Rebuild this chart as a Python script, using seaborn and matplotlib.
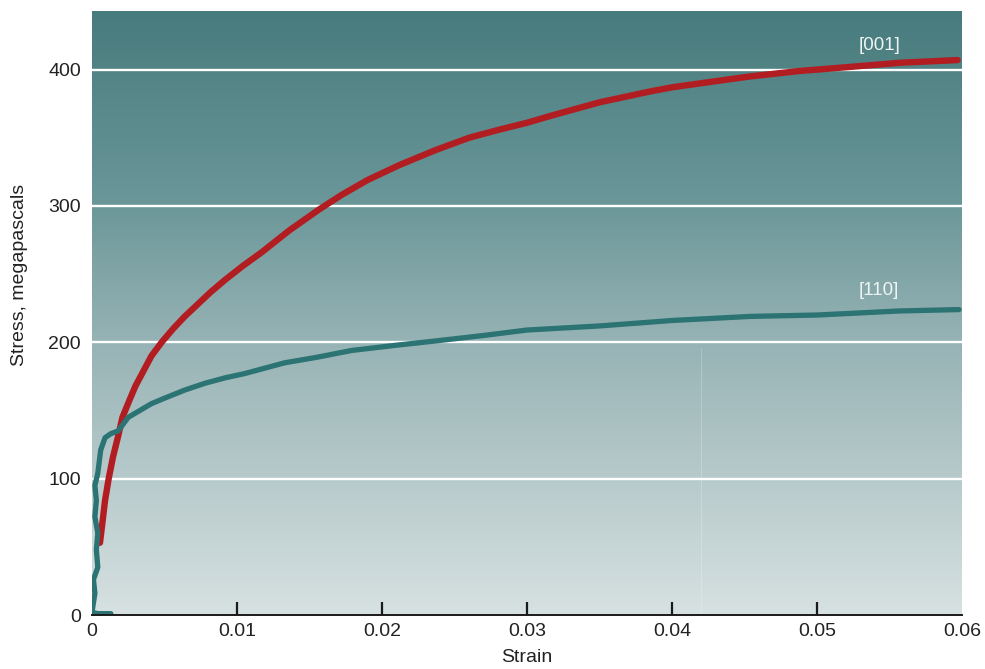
import numpy as np
import pandas as pd
import matplotlib
matplotlib.use("Agg")
import matplotlib.pyplot as plt
from matplotlib.colors import LinearSegmentedColormap
import seaborn as sns

# Stress-strain curves
strain_001 = [0.00055, 0.0007, 0.0009, 0.00115, 0.00145, 0.0018, 0.0021, 0.0026, 0.003, 0.0036,
              0.0041, 0.0048, 0.0056, 0.0064, 0.0073, 0.0082, 0.0092, 0.0104, 0.0117, 0.0136,
              0.0156, 0.0172, 0.019, 0.0212, 0.0237, 0.026, 0.0281, 0.03, 0.0316, 0.035,
              0.0385, 0.04, 0.042, 0.0454, 0.0488, 0.05, 0.0523, 0.0557, 0.0597]
stress_001 = [53, 66, 84, 100, 116, 131, 145, 158, 168, 180,
              190, 200, 210, 219, 228, 237, 246, 256, 266, 282,
              297, 308, 319, 330, 341, 350, 356, 361, 366, 376,
              384, 387, 390, 395, 399, 400, 402, 405, 407]

strain_110 = [0.0013, 0.0004, 0.0, 0.0002, 0.0001, 0.0004, 0.0003, 0.0004, 0.0002, 0.0003,
              0.0002, 0.0004, 0.0006, 0.0009, 0.0013, 0.0018, 0.0025, 0.0033, 0.0041, 0.005,
              0.0064, 0.0078, 0.0092, 0.0105, 0.0133, 0.0155, 0.0179, 0.0211, 0.0237, 0.027,
              0.03, 0.035, 0.04, 0.0454, 0.05, 0.0557, 0.0598]
stress_110 = [1, 1, 2, 16, 26, 35, 48, 60, 72, 84,
              95, 104, 121, 130, 133, 135, 145, 150, 155, 159,
              165, 170, 174, 177, 185, 189, 194, 198, 201, 205,
              209, 212, 216, 219, 220, 223, 224]

df = pd.concat([
    pd.DataFrame({"strain": strain_001, "stress": stress_001, "orient": "[001]"}),
    pd.DataFrame({"strain": strain_110, "stress": stress_110, "orient": "[110]"}),
], ignore_index=True)

sns.set_theme(style="white")
plt.rcParams["font.family"] = ["Liberation Sans", "DejaVu Sans"]

fig = plt.figure(figsize=(9.85, 6.69), dpi=100)
ax = fig.add_axes([0.0934, 0.0807, 0.8832, 0.9029])

ymax = 443
# gradient background, dark teal on top to pale grey at the bottom
bg = LinearSegmentedColormap.from_list(
    "bg", [(0.0, "#d7e1e1"), (0.45, "#97b3b5"), (0.68, "#6b9799"), (1.0, "#477b7d")])
grad = np.linspace(0, 1, 256).reshape(-1, 1)
ax.imshow(grad, cmap=bg, origin="lower", extent=[0, 0.06, 0, ymax], aspect="auto", zorder=0)

for yv in [100, 200, 300, 400]:
    ax.axhline(yv, color="white", lw=1.7, zorder=1)
ax.plot([0.042, 0.042], [0, 196], color="white", lw=0.6, alpha=0.25, zorder=1)

sns.lineplot(data=df, x="strain", y="stress", hue="orient", size="orient",
             palette={"[001]": "#b21d22", "[110]": "#2c7374"},
             sizes={"[001]": 4.6, "[110]": 3.8},
             sort=False, estimator=None, legend=False, ax=ax, zorder=3)
for ln in ax.get_lines():
    ln.set_solid_capstyle("round")
    ln.set_solid_joinstyle("round")

ax.text(0.0529, 418, "[001]", color="#eef3f3", fontsize=13.5, ha="left", va="center")
ax.text(0.0529, 238, "[110]", color="#eef3f3", fontsize=13.5, ha="left", va="center")

ax.set_xlim(0, 0.06)
ax.set_ylim(0, ymax)
ax.set_xticks([0, 0.01, 0.02, 0.03, 0.04, 0.05, 0.06])
ax.set_xticklabels(["0", "0.01", "0.02", "0.03", "0.04", "0.05", "0.06"])
ax.set_yticks([0, 100, 200, 300, 400])
ax.tick_params(axis="x", direction="in", length=9.5, width=1.6, color="#1a1a1a",
               labelsize=14, labelcolor="#222222", pad=6, bottom=True)
ax.tick_params(axis="y", length=0, labelsize=14, labelcolor="#222222", pad=8)
# no tick marks at the two ends of the axis
xt = ax.xaxis.get_major_ticks()
xt[0].tick1line.set_visible(False)
xt[-1].tick1line.set_visible(False)

for s in ["top", "right", "left"]:
    ax.spines[s].set_visible(False)
ax.spines["bottom"].set_color("#1a1a1a")
ax.spines["bottom"].set_linewidth(1.4)
ax.spines["bottom"].set_zorder(4)

ax.set_xlabel("Strain", fontsize=14, color="#222222", labelpad=0)
ax.set_ylabel("Stress, megapascals", fontsize=14, color="#222222")
ax.yaxis.set_label_coords(-0.074, 0.563)
ax.xaxis.set_label_coords(0.5, -0.056)

fig.savefig("out.png", dpi=100)
